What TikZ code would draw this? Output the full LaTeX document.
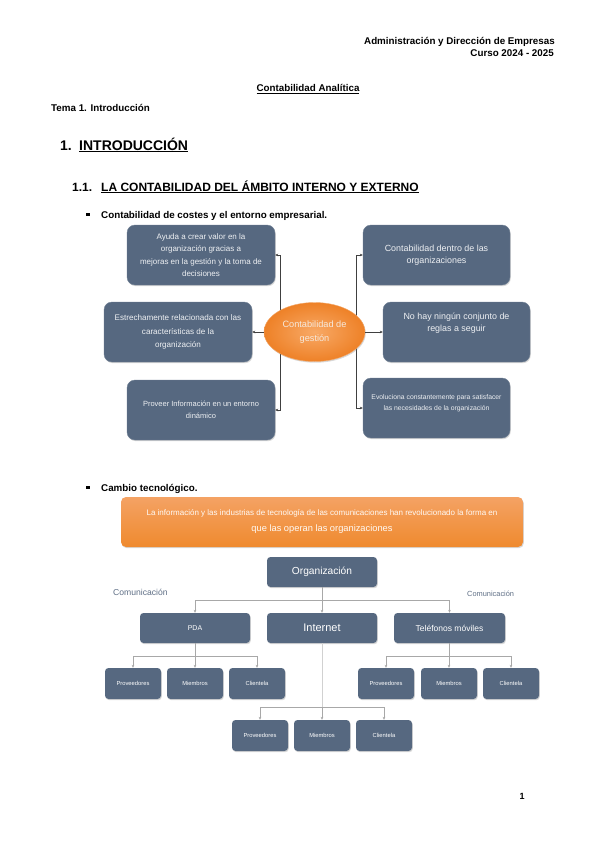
\documentclass[tikz,border=0pt]{standalone}
\usepackage{fontspec}
\setmainfont{Liberation Sans}
\usetikzlibrary{arrows.meta,shadows,shapes.geometric}
\definecolor{slate}{HTML}{566880}
\definecolor{slatet}{HTML}{EEF0F3}
\definecolor{orgline}{HTML}{A8A8A8}
\definecolor{orL}{HTML}{F8A966}
\definecolor{orD}{HTML}{EE8127}
\definecolor{banL}{HTML}{F4A264}
\definecolor{banD}{HTML}{EF8A2E}
\definecolor{commblue}{HTML}{5F6F86}
\definecolor{egtext}{HTML}{F6E9DC}
\begin{document}
\begin{tikzpicture}[x=1pt,y=-1pt,
  shad/.style={drop shadow={opacity=0.3,shadow xshift=0.8pt,shadow yshift=-1.2pt}},
  bbox/.style={rectangle,rounded corners=8pt,fill=slate,draw=slate!85!white,line width=0.4pt,
    text=slatet,align=center,inner sep=2pt,minimum width=148pt,minimum height=60pt,shad},
  obox/.style={rectangle,rounded corners=3.5pt,fill=slate,text=white,align=center,inner sep=1pt,
    minimum width=110pt,minimum height=30pt,shad},
  sbox/.style={obox,minimum width=56pt,minimum height=31pt,font=\fontsize{5.8}{6.5}\selectfont},
  darr/.style={draw=black!75,line width=0.5pt,-{Stealth[length=3pt,width=2.6pt]}},
  gline/.style={draw=orgline,line width=0.6pt},
  garr/.style={gline,-{Stealth[length=3pt,width=2.6pt]}},
  hd/.style={inner sep=0,font=\bfseries\fontsize{9.8}{11}\selectfont},
  bul/.style={fill=black,minimum size=3.6pt,inner sep=0,draw=none},
]
\useasboundingbox (0,0) rectangle (599,848);
\fill[white] (0,0) rectangle (599,848);

% ---------- header ----------
\node[hd,anchor=base east] (hdr1) at (555,45) {Administración y Dirección de Empresas};
\node[hd,anchor=base east] (hdr2) at (554,57) {Curso 2024 - 2025};
\node[hd,anchor=base] (title) at (308,92) {\underline{Contabilidad Analítica}};
\node[hd,anchor=base west] (tema) at (51,112) {Tema 1. Introducción};
\node[inner sep=0,font=\bfseries\fontsize{14}{16}\selectfont,anchor=base west] (h1n) at (60,150) {1.};
\node[inner sep=0,font=\bfseries\fontsize{14}{16}\selectfont,anchor=base west] (h1) at (79,150) {\underline{INTRODUCCIÓN}};
\node[inner sep=0,font=\bfseries\fontsize{12}{14}\selectfont,anchor=base west] (h2n) at (72,191) {1.1.};
\node[inner sep=0,font=\bfseries\fontsize{12}{14}\selectfont,anchor=base west] (h2) at (101,191) {\underline{LA CONTABILIDAD DEL ÁMBITO INTERNO Y EXTERNO}};
\node[bul] (bul1) at (88,214.5) {};
\node[hd,anchor=base west] (b1t) at (101,218) {Contabilidad de costes y el entorno empresarial.};
\node[bul] (bul2) at (88,487.5) {};
\node[hd,anchor=base west] (b2t) at (101,491) {Cambio tecnológico.};

% ---------- diagram 1 ----------
\node[bbox,font=\fontsize{8}{12.4}\selectfont] (L1) at (201,255) {Ayuda a crear valor en la\\organización gracias a\\mejoras en la gestión y la toma de\\decisiones};
\node[bbox,font=\fontsize{8.1}{13.5}\selectfont] (L2) at (178,332) {Estrechamente relacionada con las\\características de la\\organización};
\node[bbox,font=\fontsize{7.5}{12}\selectfont] (L3) at (201,410) {Proveer Información en un entorno\\dinámico};
\node[bbox,minimum width=147pt,font=\fontsize{8.9}{12}\selectfont] (R1) at (436.5,255) {Contabilidad dentro de las\\organizaciones};
\node[bbox,minimum width=147pt,label={[name=R2t,yshift=9pt,align=center,text=slatet,font=\fontsize{8.9}{11.5}\selectfont]center:No hay ningún conjunto de\\reglas a seguir}] (R2) at (456.5,332) {};
\node[bbox,minimum width=147pt,label={[name=R3t,yshift=4.5pt,align=center,text=slatet,font=\fontsize{6.8}{11}\selectfont]center:Evoluciona constantemente para satisfacer\\las necesidades de la organización}] (R3) at (436.5,408) {};

\coordinate (lv) at (280,332);
\coordinate (rv) at (356,332);
\draw[darr] (lv) |- (L1.east);
\draw[darr] (lv) |- (L3.east);
\draw[darr] (rv) |- (R1.west);
\draw[darr] (rv) |- (R3.west);
\node[ellipse,minimum width=101pt,minimum height=59pt,inner sep=0,inner color=orL,outer color=orD,
  draw=orD!70!white,line width=0.4pt,text=egtext,align=center,font=\fontsize{9.2}{14}\selectfont,shad] (eg) at (314.5,332) {Contabilidad de\\gestión};
\draw[darr] (eg.west) -- (L2.east);
\draw[darr] (eg.east) -- (R2.west);

% ---------- diagram 2 ----------
\node[rectangle,rounded corners=5pt,minimum width=402pt,minimum height=50pt,top color=banL,bottom color=banD,
  draw=none,text=white!96!orange,align=center,font=\fontsize{8}{16}\selectfont,shad] (ban) at (322,522)
  {La información y las industrias de tecnología de las comunicaciones han revolucionado la forma en\\{\fontsize{9.3}{16}\selectfont que las operan las organizaciones}};

\node[obox,font=\fontsize{10.2}{11}\selectfont] (org) at (322,572) {Organización};
\node[obox,font=\fontsize{7}{8}\selectfont] (pda) at (195,628) {PDA};
\node[obox,font=\fontsize{11}{12}\selectfont] (inet) at (322,628) {Internet};
\node[obox,minimum width=111pt,font=\fontsize{8.5}{9}\selectfont] (tel) at (449.5,628) {Teléfonos móviles};
\node[anchor=base west,inner sep=0,text=commblue,font=\fontsize{8.6}{9}\selectfont] (com1) at (113,595) {Comunicación};
\node[anchor=base west,inner sep=0,text=commblue,font=\fontsize{7.4}{9}\selectfont] (com2) at (467,596) {Comunicación};

\node[sbox] (p1) at (133,683.5) {Proveedores};
\node[sbox] (m1) at (195,683.5) {Miembros};
\node[sbox] (c1) at (257,683.5) {Clientela};
\node[sbox] (p2) at (386,683.5) {Proveedores};
\node[sbox] (m2) at (449,683.5) {Miembros};
\node[sbox] (c2) at (511,683.5) {Clientela};
\node[sbox] (p3) at (260,735.5) {Proveedores};
\node[sbox] (m3) at (322,735.5) {Miembros};
\node[sbox] (c3) at (384,735.5) {Clientela};

\coordinate (bar) at (322,600);
\draw[gline] (org.south) -- (bar);
\draw[garr] (bar) -- (inet.north);
\draw[garr] (bar) -| (pda.north);
\draw[garr] (bar) -| (tel.north);

\coordinate (pb) at (195,656);
\draw[gline] (pda.south) -- (pb);
\draw[garr] (pb) -| (p1.north);
\draw[garr] (pb) -- (m1.north);
\draw[garr] (pb) -| (c1.north);

\coordinate (tb) at (449,656);
\draw[gline] (tel.south -| tb) -- (tb);
\draw[garr] (tb) -| (p2.north);
\draw[garr] (tb) -- (m2.north);
\draw[garr] (tb) -| (c2.north);

\coordinate (ib) at (322,707);
\draw[draw=black!18,line width=0.6pt] (inet.south) -- (ib);
\draw[garr] (ib) -| (p3.north);
\draw[garr] (ib) -- (m3.north);
\draw[garr] (ib) -| (c3.north);

\node[anchor=base,inner sep=0,font=\bfseries\fontsize{9}{10}\selectfont] (pg) at (522,799) {1};
\end{tikzpicture}
\end{document}
